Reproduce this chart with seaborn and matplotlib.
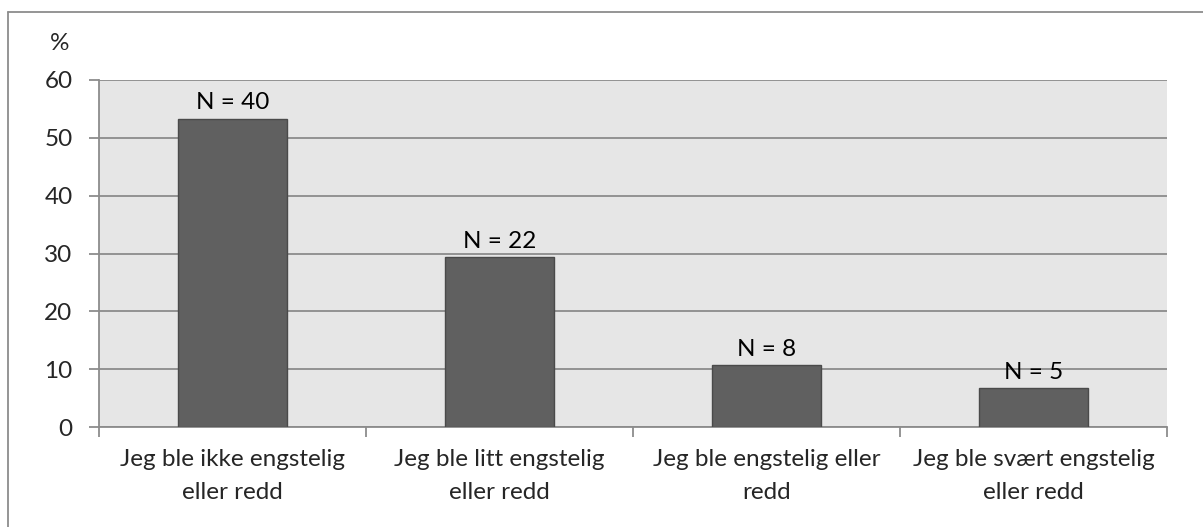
import matplotlib
matplotlib.use("Agg")
import matplotlib.pyplot as plt
from matplotlib.lines import Line2D
import seaborn as sns
import pandas as pd

categories = ["Jeg ble ikke engstelig\neller redd", "Jeg ble litt engstelig\neller redd",
              "Jeg ble engstelig eller\nredd", "Jeg ble svært engstelig\neller redd"]
counts = [40, 22, 8, 5]
percents = [53.33, 29.33, 10.67, 6.67]
yticks = [0, 10, 20, 30, 40, 50, 60]

sns.set_style("white")
plt.rcParams['font.family'] = ['Lato', 'DejaVu Sans']
FS = 17.5

W, H = 1203, 527
fig = plt.figure(figsize=(W / 100, H / 100), dpi=100)
ax = fig.add_axes([99 / W, 1 - 427 / H, (1167 - 99) / W, (427 - 80) / H])

df = pd.DataFrame({"cat": categories, "pct": percents})
sns.barplot(data=df, x="cat", y="pct", ax=ax, color="#606060", width=0.405,
            edgecolor="#4a4a4a", linewidth=1.0, saturation=1, zorder=3)

ax.set_facecolor("#E6E6E6")
ax.set_ylim(0, 60)
ax.set_xlim(-0.5, len(categories) - 0.5)
ax.set_yticks(yticks)
ax.set_yticklabels([str(v) for v in yticks], fontsize=FS)
ax.yaxis.grid(True, color="#8c8c8c", linewidth=1.3, zorder=0)
ax.set_axisbelow(True)
ax.set_xlabel("")
ax.set_ylabel("")

for s in ["top", "right"]:
    ax.spines[s].set_visible(False)
ax.spines["left"].set_color("#8c8c8c")
ax.spines["left"].set_linewidth(1.3)
ax.spines["bottom"].set_color("#8c8c8c")
ax.spines["bottom"].set_linewidth(1.3)

ax.tick_params(axis="y", left=True, length=7, width=1.3, color="#8c8c8c", pad=12, labelsize=FS)
ax.set_xticks([i for i in range(len(categories))])
ax.set_xticklabels(categories, fontsize=FS, linespacing=1.75)
ax.tick_params(axis="x", bottom=False, pad=12)
ax.set_xticks([i - 0.5 for i in range(len(categories) + 1)], minor=True)
ax.tick_params(axis="x", which="minor", bottom=True, length=7, width=1.3, color="#8c8c8c")

for i, (p, n) in enumerate(zip(percents, counts)):
    ax.annotate(f"N = {n}", (i, p), xytext=(0, 4), textcoords="offset points",
                ha="center", va="bottom", fontsize=FS, color="black")

fig.text(60 / W, 1 - 44 / H, "%", ha="center", va="center", fontsize=FS)

fig.add_artist(Line2D([8 / W, 1], [1 - 12 / H, 1 - 12 / H], color="#8c8c8c", linewidth=1.3,
                      transform=fig.transFigure))
fig.add_artist(Line2D([8 / W, 8 / W], [1 - 12 / H, 0], color="#8c8c8c", linewidth=1.3,
                      transform=fig.transFigure))

fig.savefig("out.png", dpi=100)
